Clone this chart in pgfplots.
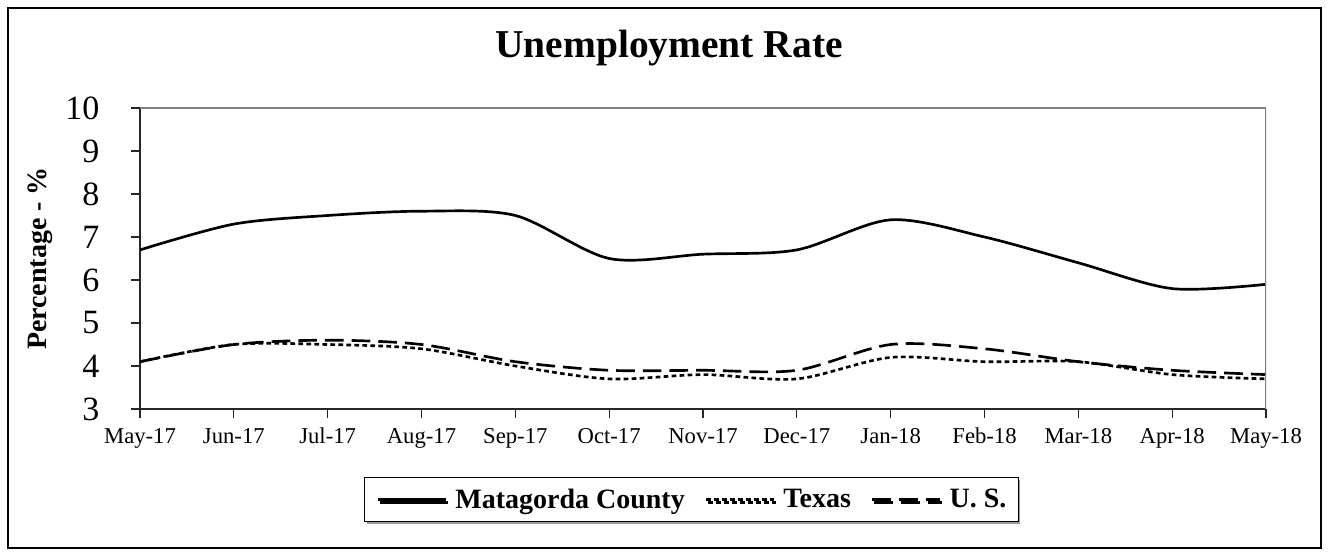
\documentclass[border=0pt]{standalone}
\usepackage{pgfplots}
\pgfplotsset{compat=1.18}
\usepackage{fontspec}
\setmainfont{Liberation Serif}
\usetikzlibrary{shadows}
\begin{document}
\begin{tikzpicture}
\path (0pt,0pt) rectangle (997.5pt,416.25pt);
\draw[line width=1.5pt] (6pt,5.25pt) rectangle (990.75pt,410.25pt);
\node[anchor=base, font=\bfseries\fontsize{29.6}{34}\selectfont] at (501.75pt,372.75pt) {Unemployment Rate};
\begin{axis}[
  at={(105pt,109.5pt)}, anchor=south west,
  width=844.5pt, height=225.75pt, scale only axis,
  xmin=0, xmax=12, ymin=3, ymax=10,
  xtick={0,1,2,3,4,5,6,7,8,9,10,11,12},
  xticklabels={May-17,Jun-17,Jul-17,Aug-17,Sep-17,Oct-17,Nov-17,Dec-17,Jan-18,Feb-18,Mar-18,Apr-18,May-18},
  ytick={3,4,5,6,7,8,9,10},
  axis lines=left,
  axis line style={-, line width=1pt, black!85},
  tick align=outside,
  major tick length=7pt,
  tick style={line width=0.8pt, black!85},
  /pgf/number format/assume math mode=true,
  xticklabel style={font=\fontsize{17}{20}\selectfont, anchor=north, text height=12pt, text depth=4pt, yshift=-3pt},
  yticklabel style={font=\fontsize{25.5}{30}\selectfont, xshift=-20pt},
  ylabel={Percentage - \%},
  ylabel style={font=\bfseries\fontsize{21}{25}\selectfont, at={(axis description cs:-0.0888,0.5)}, anchor=center},
  legend columns=3,
  legend image code/.code={\draw[#1] (0pt,0pt) -- (51pt,0pt);},
  legend style={at={(axis description cs:0.4898,-0.2259)}, anchor=north,
    font=\bfseries\fontsize{21}{25}\selectfont, draw=black, line width=0.75pt,
    inner xsep=9pt, inner ysep=8.5pt,
    drop shadow={shadow xshift=1.5pt, shadow yshift=-2pt, fill=gray!80, opacity=1},
    nodes={inner sep=0pt},
    /tikz/every odd column/.append style={column sep=6pt},
    /tikz/every even column/.append style={column sep=15pt}},
]
\addplot[smooth, black, line width=2pt] coordinates {
(0,6.7) (1,7.3) (2,7.5) (3,7.6) (4,7.5) (5,6.5) (6,6.6) (7,6.7) (8,7.4) (9,7.0) (10,6.4) (11,5.8) (12,5.9)};
\addlegendentry{Matagorda County}
\addplot[smooth, black, line width=2pt, dash pattern=on 3.5pt off 2.5pt] coordinates {
(0,4.1) (1,4.5) (2,4.5) (3,4.4) (4,4.0) (5,3.7) (6,3.8) (7,3.7) (8,4.2) (9,4.1) (10,4.1) (11,3.8) (12,3.7)};
\addlegendentry{Texas}
\addplot[smooth, black, line width=2pt, dash pattern=on 14pt off 6pt] coordinates {
(0,4.1) (1,4.5) (2,4.6) (3,4.5) (4,4.1) (5,3.9) (6,3.9) (7,3.9) (8,4.5) (9,4.4) (10,4.1) (11,3.9) (12,3.8)};
\addlegendentry{U. S.}
\draw[gray, line width=1pt] (rel axis cs:0,1) -- (rel axis cs:1,1) -- (rel axis cs:1,0);
\end{axis}
\end{tikzpicture}
\end{document}
